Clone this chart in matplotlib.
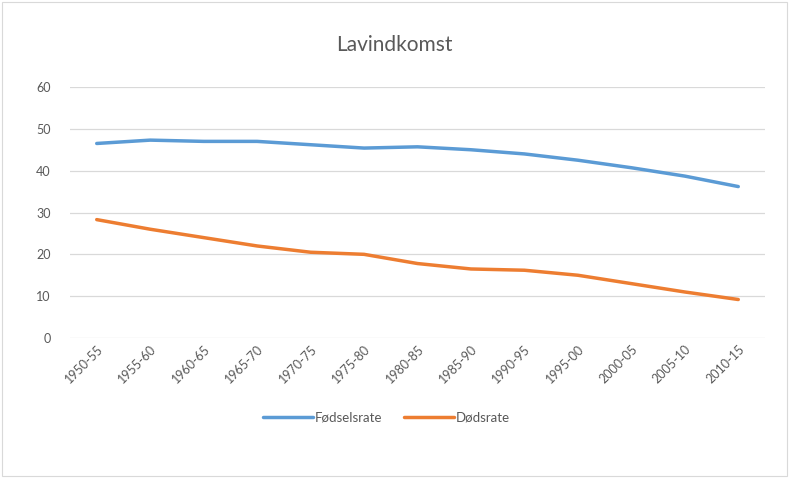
import matplotlib.pyplot as plt
from matplotlib.patches import Rectangle

plt.rcParams['font.family'] = ['Lato', 'DejaVu Sans']

periods = ['1950-55', '1955-60', '1960-65', '1965-70', '1970-75', '1975-80', '1980-85',
           '1985-90', '1990-95', '1995-00', '2000-05', '2005-10', '2010-15']
fodsel = [46.5, 47.3, 47.0, 47.0, 46.2, 45.4, 45.7, 45.0, 44.0, 42.5, 40.7, 38.7, 36.2]
dods = [28.3, 26.0, 24.0, 22.0, 20.5, 20.0, 17.8, 16.5, 16.2, 15.0, 13.0, 11.0, 9.2]

fig = plt.figure(figsize=(7.89, 4.78), dpi=100)
ax = fig.add_axes([70/789, 1 - 338/478, 695/789, 251/478])

# chart border
fig.patches.append(Rectangle((2/789, 2/478), 785/789, 474/478, transform=fig.transFigure,
                             fill=False, edgecolor='#D9D9D9', linewidth=0.8))

x = range(len(periods))
ax.plot(x, fodsel, color='#5B9BD5', linewidth=2.5, label='Fødselsrate', solid_capstyle='round')
ax.plot(x, dods, color='#ED7D31', linewidth=2.5, label='Dødsrate', solid_capstyle='round')

ax.set_xlim(-0.5, len(periods) - 0.5)
ax.set_ylim(0, 60)
ax.set_yticks(range(0, 61, 10))
ax.yaxis.grid(True, color='#D9D9D9', linewidth=0.9)
ax.set_axisbelow(True)
for s in ax.spines.values():
    s.set_visible(False)
ax.tick_params(length=0, colors='#595959', labelsize=9)
ax.tick_params(axis='y', pad=14)
ax.set_xticks(list(x))
ax.set_xticklabels(periods, rotation=45, ha='right', rotation_mode='anchor')

fig.text(0.5, 1 - 45/478, 'Lavindkomst', ha='center', va='center', fontsize=15, color='#595959')

fig.legend(loc='center', bbox_to_anchor=(0.49, 1 - 418/478), ncol=2, frameon=False,
           fontsize=9.5, labelcolor='#595959', handlelength=3.8, columnspacing=1.6,
           handletextpad=0.15)

fig.savefig('out.png', dpi=100)
